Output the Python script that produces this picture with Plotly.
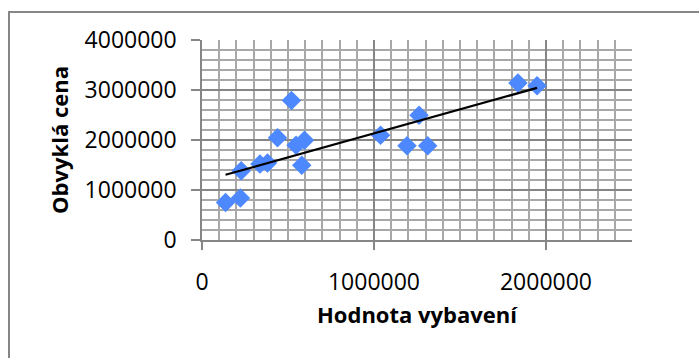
import numpy as np
import plotly.graph_objects as go

# Equipment value vs. usual price (CZK)
hodnota_vybaveni = [137000, 223000, 228000, 337000, 381000, 439000, 520000, 547000,
                    596000, 580000, 1038000, 1192000, 1262000, 1312000, 1837000, 1948000]
obvykla_cena = [750000, 840000, 1384000, 1520000, 1540000, 2046000, 2790000, 1894000,
                1994000, 1494000, 2094000, 1884000, 2496000, 1886000, 3140000, 3086000]

x_ticks = [0, 1000000, 2000000]
y_ticks = [0, 1000000, 2000000, 3000000, 4000000]

# Linear trendline (least squares) across the data's x span
xs = np.array(hodnota_vybaveni, dtype=float)
ys = np.array(obvykla_cena, dtype=float)
slope, intercept = np.polyfit(xs, ys, 1)
trend_x = [xs.min(), xs.max()]
trend_y = [slope * v + intercept for v in trend_x]

GRID_MAJOR = "#868686"
GRID_MINOR = "#a8a8a8"
FONT = "Open Sans"

fig = go.Figure()
fig.add_trace(go.Scatter(
    x=hodnota_vybaveni, y=obvykla_cena, mode="markers",
    marker=dict(symbol="diamond", size=15, color="#4d88ff", line=dict(width=0)),
    showlegend=False, hoverinfo="x+y",
))
fig.add_trace(go.Scatter(
    x=trend_x, y=trend_y, mode="lines",
    line=dict(color="black", width=2.2), showlegend=False, hoverinfo="skip",
))

fig.update_layout(
    width=699, height=358,
    margin=dict(l=202, r=67, t=40, b=118),
    paper_bgcolor="white", plot_bgcolor="white",
    font=dict(family=FONT, color="black"),
    shapes=[dict(
        type="rect", xref="paper", yref="paper",
        xsizemode="pixel", ysizemode="pixel", xanchor=0, yanchor=0,
        x0=-193, x1=560, y0=-200, y1=228,
        line=dict(color="#868686", width=2), fillcolor="rgba(0,0,0,0)", layer="below",
    )],
)

fig.update_xaxes(
    range=[0, 2500000], tickvals=x_ticks, ticktext=[str(v) for v in x_ticks],
    showgrid=True, gridcolor=GRID_MAJOR, gridwidth=1.5,
    minor=dict(dtick=100000, showgrid=True, gridcolor=GRID_MINOR, gridwidth=1.5),
    showline=True, linecolor=GRID_MAJOR, linewidth=1.5,
    ticks="outside", ticklen=8, tickcolor=GRID_MAJOR, tickwidth=1.5,
    tickfont=dict(family=FONT, size=23), ticklabelstandoff=13,
    zeroline=False,
    title=dict(text="<b>Hodnota vybavení</b>", font=dict(family=FONT, size=22), standoff=11),
)
fig.update_yaxes(
    range=[0, 4000000], tickvals=y_ticks, ticktext=[str(v) for v in y_ticks],
    showgrid=True, gridcolor=GRID_MAJOR, gridwidth=1.5,
    minor=dict(dtick=200000, showgrid=True, gridcolor=GRID_MINOR, gridwidth=1.5),
    showline=True, linecolor=GRID_MAJOR, linewidth=1.5,
    ticks="outside", ticklen=9, tickcolor=GRID_MAJOR, tickwidth=1.5,
    tickfont=dict(family=FONT, size=23), ticklabelstandoff=10,
    zeroline=False,
    title=dict(text="<b>Obvyklá cena</b>", font=dict(family=FONT, size=22), standoff=10),
)

fig.write_html("out.html")
